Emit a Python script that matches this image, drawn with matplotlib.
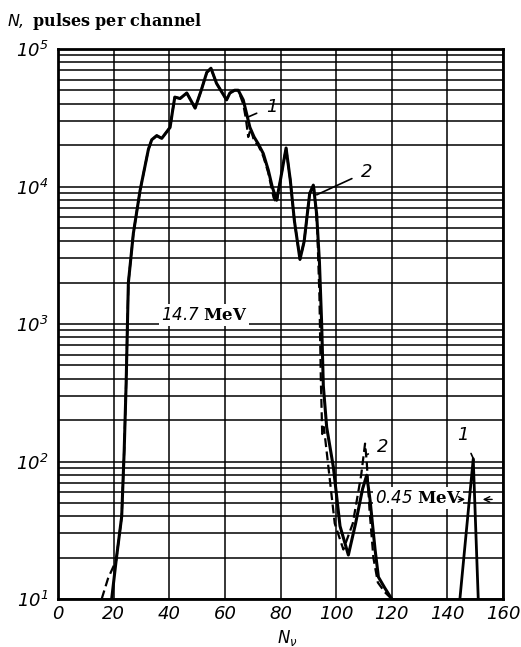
import numpy as np
import matplotlib
matplotlib.use('Agg')
import matplotlib.pyplot as plt
from matplotlib.ticker import FixedLocator, LogLocator, NullFormatter

plt.rcParams['mathtext.fontset'] = 'custom'
plt.rcParams['mathtext.rm'] = 'DejaVu Sans:italic'
plt.rcParams['mathtext.it'] = 'DejaVu Sans:italic'
plt.rcParams['mathtext.bf'] = 'DejaVu Serif:bold'

# curve 2 (solid), channel number vs log10(counts)
x2 = [19.3, 20.9, 22.9, 23.8, 24.5, 25.3, 27.1, 29.5, 32.5, 33.7, 35.5, 37.3,
      40.3, 41.2, 42.0, 43.9, 46.3, 49.3, 51.5, 53.5, 55.0, 57.0, 59.4, 60.6,
      61.8, 63.5, 64.8, 66.6, 67.8, 69.0, 70.5, 72.0, 73.8, 75.6, 77.0, 78.6,
      80.0, 82.0, 83.5, 85.0, 87.0, 88.5, 90.5, 91.8, 93.0, 94.0, 94.8, 95.4,
      96.6, 99.0, 101.4, 104.4, 107.0, 109.5, 111.0, 112.2, 114.0, 115.2,
      117.5, 120.0]
lg2 = [1.0, 1.28, 1.6, 2.08, 2.57, 3.3, 3.66, 3.97, 4.27, 4.34, 4.37, 4.35,
       4.43, 4.55, 4.65, 4.64, 4.68, 4.57, 4.70, 4.83, 4.86, 4.75, 4.67, 4.63,
       4.68, 4.70, 4.70, 4.63, 4.53, 4.43, 4.36, 4.31, 4.24, 4.12, 4.0, 3.90,
       4.05, 4.28, 4.05, 3.75, 3.47, 3.6, 3.95, 4.01, 3.8, 3.45, 3.0, 2.55,
       2.25, 1.96, 1.53, 1.32, 1.55, 1.8, 1.9, 1.72, 1.36, 1.16, 1.08, 1.0]

# curve 1 (dashed)
x1 = [15.7, 18.0, 20.9, 22.9, 23.8, 24.5, 25.3, 27.1, 29.5, 32.5, 33.7, 35.5,
      37.3, 40.3, 41.2, 42.0, 43.9, 46.3, 49.3, 51.5, 53.5, 55.0, 57.0, 59.4,
      60.6, 61.8, 63.5, 64.8, 66.6, 67.5, 68.4, 69.3, 70.5, 72.0, 73.8, 75.6,
      77.5, 78.6, 80.0, 82.0, 83.5, 85.0, 87.0, 88.5, 90.5, 92.0, 93.2, 94.0,
      94.5, 95.0, 95.6, 97.0, 99.5, 102.6, 106.0, 109.0, 110.4, 111.0, 112.0,
      113.4, 115.0, 117.5, 120.0]
lg1 = [1.0, 1.15, 1.28, 1.6, 2.08, 2.57, 3.3, 3.66, 3.97, 4.27, 4.34, 4.37,
       4.35, 4.43, 4.55, 4.65, 4.64, 4.68, 4.57, 4.70, 4.83, 4.86, 4.75, 4.67,
       4.63, 4.68, 4.70, 4.70, 4.6, 4.5, 4.36, 4.42, 4.33, 4.30, 4.22, 4.1,
       3.92, 3.88, 4.05, 4.28, 4.05, 3.75, 3.47, 3.6, 3.95, 4.0, 3.7, 3.2,
       2.6, 2.2, 2.25, 2.0, 1.55, 1.36, 1.55, 1.9, 2.13, 2.0, 1.65,
       1.3, 1.12, 1.05, 1.0]

# curve 1, 0.45 MeV line
x1b = [144.5, 149.3, 151.1]
lg1b = [1.0, 2.02, 1.0]

xticks = [0, 20, 40, 60, 80, 100, 120, 140, 160]
yticks = [1e1, 1e2, 1e3, 1e4, 1e5]
ylabels = [r'$10^{1}$', r'$10^{2}$', r'$10^{3}$', r'$10^{4}$', r'$10^{5}$']

fig = plt.figure(figsize=(5.21, 6.47), dpi=100)
ax = fig.add_axes([58 / 521, 1 - 599 / 647, 445 / 521, 550 / 647])

ax.plot(x1, 10 ** np.array(lg1), color='black', lw=1.6, ls=(0, (4, 2)))
ax.plot(x2, 10 ** np.array(lg2), color='black', lw=2.2)
ax.plot(x1b, 10 ** np.array(lg1b), color='black', lw=2.0)

ax.set_yscale('log')
ax.set_xlim(0, 160)
ax.set_ylim(10, 1e5)
ax.xaxis.set_major_locator(FixedLocator(xticks))
ax.set_xticklabels([str(t) for t in xticks], fontsize=13, style='italic')
ax.yaxis.set_major_locator(FixedLocator(yticks))
ax.set_yticklabels(ylabels, fontsize=13)
ax.yaxis.set_minor_locator(LogLocator(base=10, subs=np.arange(2, 10)))
ax.yaxis.set_minor_formatter(NullFormatter())
ax.tick_params(which='both', length=0)
ax.tick_params(axis='x', pad=4)
ax.tick_params(axis='y', pad=7)
ax.grid(True, which='both', axis='y', color='black', lw=1.1)
ax.grid(True, which='major', axis='x', color='black', lw=1.1)
for s in ax.spines.values():
    s.set_linewidth(2)

ax.text(52.5, 1160, r'$14.7\ \mathbf{MeV}$', fontsize=12, ha='center', va='center',
        bbox=dict(facecolor='white', edgecolor='none', pad=1.5))
ax.text(129.4, 54, r'$0.45\ \mathbf{MeV}$', fontsize=12, ha='center', va='center',
        bbox=dict(facecolor='white', edgecolor='none', pad=1.5))
ax.annotate('', xy=(147.4, 53), xytext=(143.2, 53),
            arrowprops=dict(arrowstyle='->', lw=1, color='black'))
ax.annotate('', xy=(151.7, 53), xytext=(157.1, 53),
            arrowprops=dict(arrowstyle='->', lw=1, color='black'))

# curve labels
for txt, tx, ty, px, py in [('1', 76.8, 38000, 68.3, 32000),
                            ('2', 111.0, 12800, 93.0, 8700),
                            ('2', 116.9, 128, 111.0, 112),
                            ('1', 145.6, 155, 149.6, 102)]:
    ax.annotate(txt, xy=(px, py), xytext=(tx, ty), fontsize=13, style='italic',
                ha='center', va='center',
                arrowprops=dict(arrowstyle='-', lw=1.2, color='black',
                                shrinkA=5, shrinkB=0))

fig.text(7 / 521, 1 - 22 / 647, r'$N,\ \mathbf{pulses\ per\ channel}$',
         fontsize=11.5, ha='left', va='center')
fig.text(287 / 521, 1 - 638 / 647, r'$N_{\nu}$', fontsize=12,
         ha='center', va='center')

fig.savefig('out.png', dpi=100)
